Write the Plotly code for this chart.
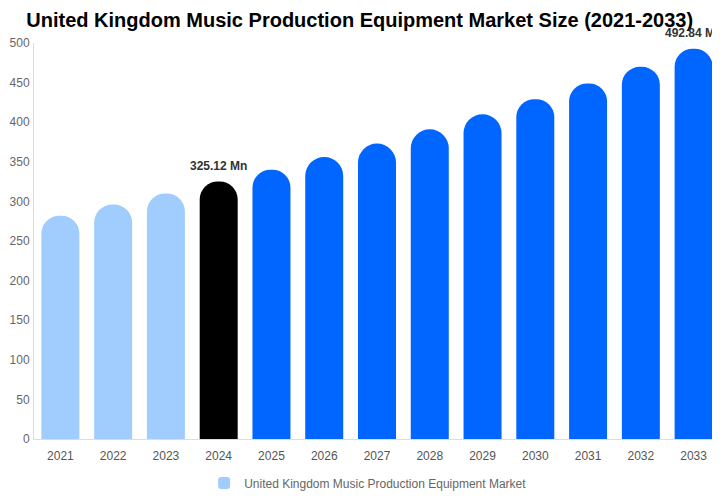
import plotly.graph_objects as go

# ── data ──────────────────────────────────────────────
years = ['2021', '2022', '2023', '2024', '2025', '2026', '2027',
         '2028', '2029', '2030', '2031', '2032', '2033']
market_size = [282, 296, 310, 325.12, 340, 356, 373, 391, 410, 429, 449, 470, 492.84]
labelled = {'2024': '325.12 Mn', '2033': '492.84 Mn'}

series_name = 'United Kingdom Music Production Equipment Market'
title_text = 'United Kingdom Music Production Equipment Market Size (2021-2033)'

# history light blue, base year black, forecast blue
bar_colors = []
for y in years:
    if int(y) < 2024:
        bar_colors.append('#a0cdfd')
    elif y == '2024':
        bar_colors.append('#000000')
    else:
        bar_colors.append('#0066ff')

FONT = 'Liberation Sans, Arial, sans-serif'

fig = go.Figure()
fig.add_trace(go.Bar(
    x=years, y=market_size, name=series_name,
    marker=dict(color=bar_colors, cornerradius='50%', line=dict(width=0)),
    showlegend=True,
))

# value labels above two bars (x = category index)
for i, (y, v) in enumerate(zip(years, market_size)):
    if y in labelled:
        fig.add_annotation(
            x=i, y=v, text=f'<b>{labelled[y]}</b>', showarrow=False,
            yanchor='bottom', yshift=7,
            font=dict(size=12, color='#333333', family=FONT),
        )

# page body has an 8px margin, so the figure is sized 712x492
fig.update_layout(
    width=712, height=492,
    title=dict(text=f'<b>{title_text}</b>', x=0.494, xanchor='center', y=0.976, yanchor='middle',
               font=dict(size=20, color='#000000', family=FONT)),
    paper_bgcolor='white', plot_bgcolor='white',
    font=dict(family=FONT, color='#666666', size=12),
    margin=dict(l=26, r=0, t=35, b=61, autoexpand=False),
    bargap=0.28,
    legend=dict(orientation='h', x=0.248, xanchor='left', y=-0.111, yanchor='middle',
                font=dict(size=12, color='#666666')),
)
fig.update_xaxes(type='category', range=[-0.5, len(years) - 0.5],
                 showline=True, linecolor='#dddddd', linewidth=1, showgrid=False,
                 ticks='', ticklabelstandoff=6, tickfont=dict(size=12, color='#555555'))
fig.update_yaxes(range=[0, 500], dtick=50, showline=True, linecolor='#dddddd', linewidth=1,
                 showgrid=False, zeroline=False, ticks='', ticklabelstandoff=1,
                 tickfont=dict(size=12, color='#666666'))

fig.write_html('out.html')
